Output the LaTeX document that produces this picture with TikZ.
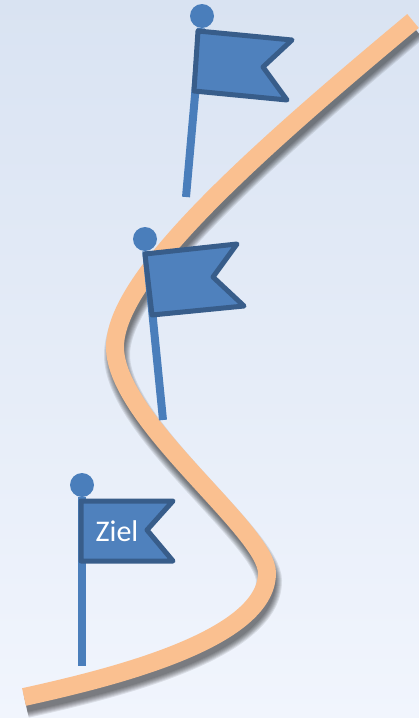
\documentclass[tikz,border=0pt]{standalone}
\usepackage{fontspec}
\setmainfont{Carlito}
\usetikzlibrary{positioning}
\definecolor{roadcol}{HTML}{FAC090}
\definecolor{polecol}{HTML}{4A7EBB}
\definecolor{flagcol}{HTML}{4F81BD}
\definecolor{edgecol}{HTML}{385D8A}
\definecolor{skytop}{HTML}{D9E3F2}
\definecolor{skybottom}{HTML}{F1F5FD}
\newcommand{\roadline}{(24,697) .. controls (110,678) and (267,640) .. (267,573) .. controls (267,530) and (115,420) .. (115,347) .. controls (115,280) and (240,165) .. (413,21)}
\tikzset{
	pin/.style={
		circle,
		fill=polecol,
		minimum size=24pt,
		inner sep=0pt
	},
	pole/.style={
		draw=polecol,
		line width=8pt
	},
	flag/.style={
		draw=edgecol,
		fill=flagcol,
		line width=5pt,
		line join=round
	}
}

\begin{document}
\begin{tikzpicture}[x=1pt,y=-1pt]
			\tikzstyle{road}=[draw=roadcol, line width=18pt]
			\tikzstyle{shade}=[draw=black, opacity=0.09]
			\fill[top color=skytop, bottom color=skybottom] (0,0) rectangle (419,718);
			\useasboundingbox (0,0) rectangle (419,718);

			% road with soft shadow
			\begin{scope}[shift={(2,8)}]
				\draw[shade, line width=26pt] \roadline;
				\draw[shade, line width=24pt] \roadline;
				\draw[shade, line width=22pt] \roadline;
				\draw[shade, line width=20pt] \roadline;
				\draw[shade, line width=18pt] \roadline;
				\draw[shade, line width=16pt] \roadline;
				\draw[shade, line width=14pt] \roadline;
			\end{scope}
			\draw[road] \roadline;

			% top flag
			\node[pin] (pinA) at (202,16) {};
			\coordinate (footA) at (186,197);
			\coordinate (a1) at (198,31);
			\coordinate (a2) at (292,40);
			\coordinate (a3) at (263,67);
			\coordinate (a4) at (287,100);
			\coordinate (a5) at (194,91);
			\draw[pole] (pinA) -- (footA);
			\draw[flag] (a1) -- (a2) -- (a3) -- (a4) -- (a5) -- cycle;

			% middle flag
			\node[pin] (pinB) at (145,239) {};
			\coordinate (footB) at (163,420);
			\coordinate (b1) at (145,254);
			\coordinate (b2) at (237,244);
			\coordinate (b3) at (213,277);
			\coordinate (b4) at (244,306);
			\coordinate (b5) at (152,315);
			\draw[pole] (pinB) -- (footB);
			\draw[flag] (b1) -- (b2) -- (b3) -- (b4) -- (b5) -- cycle;

			% bottom flag
			\node[pin] (pinC) at (82,485) {};
			\coordinate (footC) at (82,666);
			\coordinate (c1) at (81,501);
			\coordinate (c2) at (173,501);
			\coordinate (c3) at (147,530);
			\coordinate (c4) at (173,561);
			\coordinate (c5) at (81,561);
			\draw[pole] (pinC) -- (footC);
			\draw[flag] (c1) -- (c2) -- (c3) -- (c4) -- (c5) -- cycle;
			\node[text=white, font=\fontsize{30}{30}\selectfont, inner sep=0pt] (goal) at (117,531) {Ziel};
\end{tikzpicture}
\end{document}
